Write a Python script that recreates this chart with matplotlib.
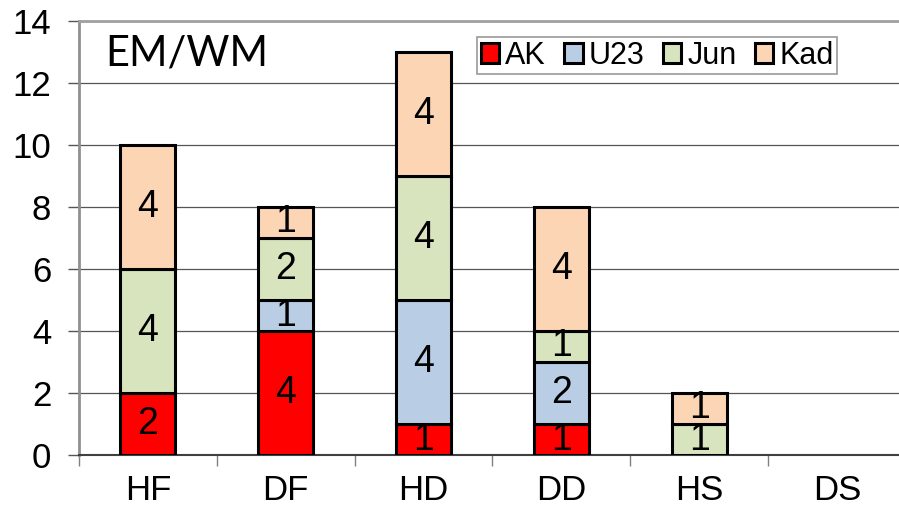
"""Stacked medal counts per discipline (EM/WM), drawn to out.png."""

import matplotlib

matplotlib.use("Agg")
import matplotlib.pyplot as plt
import numpy as np

CATEGORIES = ["HF", "DF", "HD", "DD", "HS", "DS"]
AK = [2, 4, 1, 1, 0, 0]
U23 = [0, 1, 4, 2, 0, 0]
JUN = [4, 2, 4, 1, 1, 0]
KAD = [4, 1, 4, 4, 1, 0]

SERIES = [
    ("AK", AK, "#ff0000"),
    ("U23", U23, "#b9cde5"),
    ("Jun", JUN, "#d7e4bd"),
    ("Kad", KAD, "#fcd5b5"),
]

plt.rcParams["font.family"] = ["Liberation Sans", "DejaVu Sans"]

W, H = 899, 514
fig = plt.figure(figsize=(W / 100, H / 100), dpi=100)
ax = fig.add_axes([79 / W, 1 - 455 / H, (906 - 79) / W, (455 - 21) / H])

x = np.arange(len(CATEGORIES))
bottom = np.zeros(len(CATEGORIES))
for name, vals, color in SERIES:
    vals = np.array(vals, dtype=float)
    nz = vals > 0  # empty segments would leave a stray black outline
    ax.bar(x[nz], vals[nz], width=0.4, bottom=bottom[nz], color=color,
           edgecolor="black", linewidth=2.2, label=name, zorder=3)
    for xi, b, v in zip(x[nz], bottom[nz], vals[nz]):
        ax.text(xi, b + v / 2, f"{int(v)}", ha="center", va="center",
                fontsize=27, zorder=4)
    bottom += vals

ax.set_xlim(-0.5, 5.5)
ax.set_ylim(0, 14)
ax.set_yticks(range(0, 15, 2))
ax.yaxis.grid(True, color="#555555", linewidth=0.9, zorder=0)
ax.set_axisbelow(True)

# category labels centred, tick marks on the category boundaries
ax.set_xticks(x)
ax.set_xticklabels(CATEGORIES, fontsize=25)
ax.tick_params(axis="x", which="major", length=0, pad=14)
ax.set_xticks(np.arange(-0.5, 6.0, 1.0), minor=True)
ax.tick_params(axis="x", which="minor", length=8, width=1, color="#808080")
ax.tick_params(axis="y", labelsize=25, length=8, width=1, color="#555555", pad=12)

ax.spines["right"].set_visible(False)
ax.spines["top"].set_color("#a0a0a0")
ax.spines["top"].set_linewidth(2)
ax.spines["left"].set_color("#909090")
ax.spines["left"].set_linewidth(2)
ax.spines["bottom"].set_color("#404040")
ax.spines["bottom"].set_linewidth(1.5)

fig.text(105 / W, 1 - 65 / H, "EM/WM", fontsize=30, va="baseline",
         family=["Lato", "DejaVu Sans"])

leg = fig.legend(loc="upper left", bbox_to_anchor=(477 / W, 1 - 37 / H),
                 ncol=4, fontsize=22, frameon=True, fancybox=False,
                 handlelength=0.6, handleheight=0.6, handletextpad=0.2,
                 columnspacing=0.6, borderpad=0.12, borderaxespad=0)
leg.get_frame().set_edgecolor("#808080")
leg.get_frame().set_linewidth(1.2)

fig.savefig("out.png", dpi=100)
